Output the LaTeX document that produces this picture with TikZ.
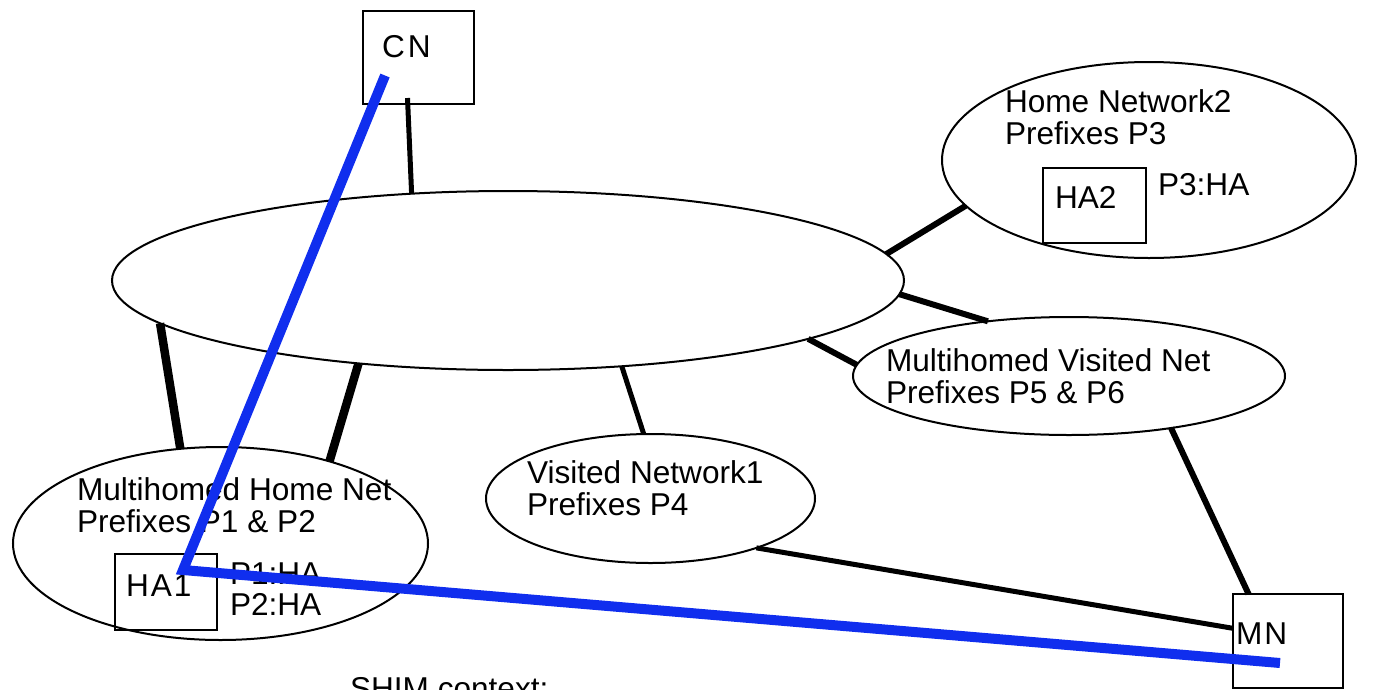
\documentclass[tikz,border=0pt]{standalone}
\usepackage{fontspec}
\setmainfont{Liberation Sans}
\usetikzlibrary{shapes.geometric,calc}
\definecolor{shimblue}{RGB}{16,46,238}
\begin{document}
\begin{tikzpicture}[x=1pt,y=-1pt,
  net/.style={draw,ellipse,line width=2pt,inner sep=0pt,outer sep=0pt},
  boxnode/.style={draw,rectangle,line width=2pt,inner sep=0pt,outer sep=0pt},
  lbl/.style={anchor=base west,inner sep=0pt,outer sep=0pt,font=\fontsize{31.6}{31.6}\selectfont},
  link/.style={line width=#1},
  shim/.style={draw=shimblue,line width=10pt,line join=miter}]
\useasboundingbox (0,0) rectangle (1395,689);
% networks
\node[net,minimum width=792,minimum height=179] (core) at (508,280.5) {};
\node[net,minimum width=414,minimum height=196] (hn2) at (1149,160) {};
\node[net,minimum width=432,minimum height=118] (mvn) at (1069,376) {};
\node[net,minimum width=329,minimum height=129] (vn1) at (650.5,498.5) {};
\node[net,minimum width=415,minimum height=193] (mhn) at (220.5,543.5) {};
% boxes
\node[boxnode,minimum width=111,minimum height=93] (cn) at (418.5,57.5) {};
\node[boxnode,minimum width=103,minimum height=75] (ha2) at (1094.5,205.5) {};
\node[boxnode,minimum width=102,minimum height=76] (ha1) at (166,592) {};
\node[boxnode,minimum width=110,minimum height=94] (mn) at (1288,641) {};
% labels
\node[lbl] (cnl) at (382,57) {C\kern3pt N};
\node[lbl] (ha1l) at (126,596) {H\kern2pt A\kern2pt 1};
\node[lbl] (mnl) at (1236,644) {M\kern2pt N};
\node[lbl] (ha2l) at (1055,208) {HA2};
\node[lbl] (p3l) at (1158,195) {P3:HA};
\node[lbl] (p1l) at (230,584) {P1:HA};
\node[lbl] (p2l) at (230,615) {P2:HA};
\node[lbl] (hn2a) at (1005,112) {Home Network2};
\node[lbl] (hn2b) at (1005,144) {Prefixes P3};
\node[lbl] (mvna) at (886,371) {Multihomed Visited Net};
\node[lbl] (mvnb) at (886,403) {Prefixes P5 \& P6};
\node[lbl] (vn1a) at (527,483) {Visited Network1};
\node[lbl] (vn1b) at (527,515) {Prefixes P4};
\node[lbl] (mhna) at (77,500) {Multihomed Home Net};
\node[lbl] (mhnb) at (77,532) {Prefixes P1 \& P2};
\node[lbl] (shimctx) at (350,699) {SHIM context:};
% links
\draw[link=5pt] ($(cn.south)+(-11,-6)$) -- (core.138.3);
\draw[link=6pt] (core.4.3) -- (hn2.194.7);
\draw[link=6pt] (core.-2.9) -- (mvn.146.3);
\draw[link=6pt] (core.-11.7) -- (mvn.177.5);
\draw[link=5pt] (core.-37.5) -- (vn1.96.4);
\draw[link=8.5pt] (core.187) -- (mhn.113.7);
\draw[link=8.5pt] (core.209.9) -- (mhn.37.1);
\draw[link=5pt] (vn1.-25.8) -- (mn.167.8);
\draw[link=6pt] (mvn.-27.5) -- (mn.130.4);
% shim path
\draw[shim] ($(cn.center)+(-33.5,18)$) -- ($(ha1.center)+(17,-22)$) -- ($(mn.center)+(-8,22)$);
\end{tikzpicture}
\end{document}
